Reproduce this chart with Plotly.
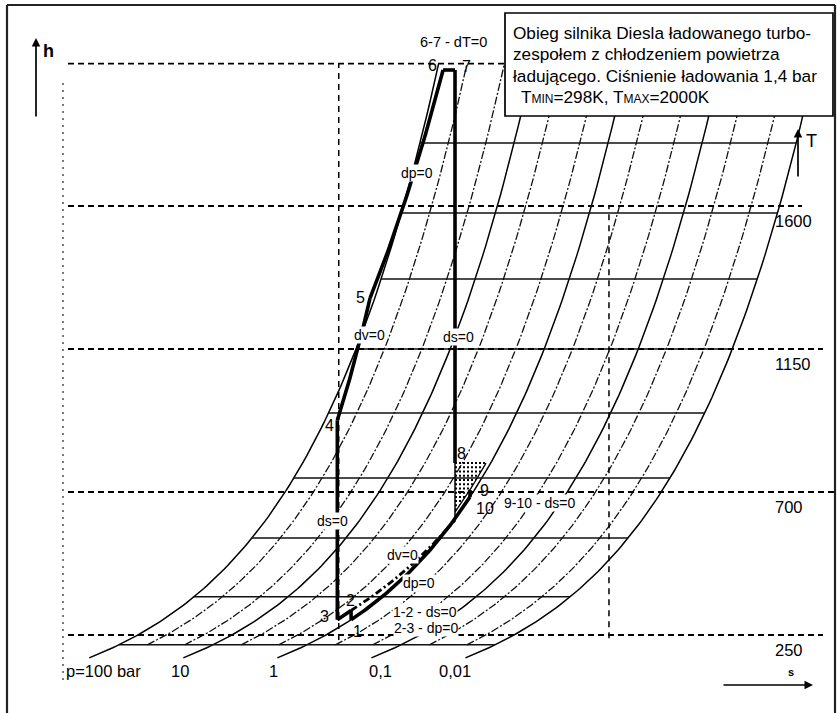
import numpy as np
import plotly.graph_objects as go

W, H = 837, 713
FONT = "Liberation Sans, Arial, sans-serif"
INK = "#000000"

# Ideal-gas air, kJ/(kg K); entropy counted from 0 °C and 1 bar
CP, R = 1.005, 0.287
T_REF, P_REF = 273.15, 1.0

# Isobar family (bar)
decade_pressures = [100, 10, 1, 0.1, 0.01]
decade_labels = ["p=100 bar", "10", "1", "0,1", "0,01"]
intermediate_pressures = [50, 20, 5, 2, 0.5, 0.2, 0.05, 0.02]
T_ISO_LOW, T_ISO_LOW_MINOR, T_TOP = 178, 219, 2048

# Temperature scale (K) and enthalpy grid levels expressed in K
temperature_ticks = [250, 700, 1150, 1600]
grid_T = [219, 370, 555, 744, 949, 1150, 1370, 1578, 1798]

# Cycle states: entropy (kJ/kg K) and temperature (K)
state_ids = ["1", "2", "3", "4", "5", "6", "7", "8", "9", "10"]
state_s = [0.0875, 0.0875, -0.009, -0.009, 0.221, 0.734, 0.818, 0.818, 0.923, 0.923]
state_T = [298, 327, 298, 926, 1310, 2028, 2028, 791, 706, 684]
p_exhaust = 1.12        # bar, exhaust manifold isobar through state 9
T_dv_end = 612          # K, lower end of the dv=0 reference line on s8

S = dict(zip(state_ids, state_s))
T = dict(zip(state_ids, state_T))


def entropy(t, p):
    return CP * np.log(np.asarray(t, float) / T_REF) - R * np.log(p / P_REF)


def temp_at(s, p):
    return T_REF * np.exp((s + R * np.log(p / P_REF)) / CP)


def process(sa, ta, sb, tb, n=60):
    """Polytropic path (s linear in ln T) between two states."""
    if abs(sb - sa) < 1e-12 or ta == tb:
        return [sa, sb], [ta, tb]
    f = np.linspace(0, 1, n)
    return sa + f * (sb - sa), ta * (tb / ta) ** f


# pixel helpers for frame decorations (paper coordinates)
def px(x):
    return x / W


def py(y):
    return 1 - y / H


# axis ranges chosen so the diagram fills the page
X_RANGE = [-2.3795, 3.5024]
Y_RANGE = [4.54, 2248.3]
s_per_px = (X_RANGE[1] - X_RANGE[0]) / W


def s_at(xp):
    return X_RANGE[0] + xp * s_per_px


fig = go.Figure()


def line(xs, ys, width=1.2, dash="solid", color=INK):
    fig.add_trace(go.Scatter(x=list(xs), y=list(ys), mode="lines",
                             line=dict(color=color, width=width, dash=dash),
                             hoverinfo="skip", showlegend=False))


# intermediate isobars
for p in intermediate_pressures:
    t = np.geomspace(T_ISO_LOW_MINOR, T_TOP, 120)
    line(entropy(t, p), t, 1.3, "8px,2px,2px,2px", "#111111")

# decade isobars
for p in decade_pressures:
    t = np.geomspace(T_ISO_LOW, T_TOP, 120)
    line(entropy(t, p), t, 1.5)

# enthalpy grid lines bounded by the outer isobars
for tg in grid_T:
    line([entropy(tg, max(decade_pressures)), entropy(tg, min(decade_pressures))],
         [tg, tg], 1.5, "solid", "#111111")

# temperature reference lines (dashed)
dash_ends = {250: 823, 700: 835, 1150: 823, 1600: 802, T_TOP: 505}
for tv, xe in dash_ends.items():
    line([s_at(68), s_at(xe)], [tv, tv], 1.9, "6px,4px")

# vertical guides
line([s_at(63), s_at(63)], [108, 1987], 1.3, "2px,5px", "#333333")
line([S["3"] + 0.01, S["3"] + 0.01], [234, T_TOP], 1.5, "6px,5px")
line([1.90, 1.90], [240, 1600], 1.5, "6px,5px")

# hatched blow-down triangle below state 8
T_hatch_bottom = float(temp_at(S["8"], p_exhaust))
for th in np.linspace(T["8"], T_hatch_bottom + 8, 12):
    line([S["8"], float(entropy(th, p_exhaust))], [th, th], 2.0, "2px,2px")
tt = np.geomspace(T_hatch_bottom, T["8"], 20)
line(entropy(tt, p_exhaust), tt, 1.3)
line([S["8"], S["8"]], [T["8"], T_dv_end], 1.5)

# dv=0 reference line from state 2
xs, ys = process(S["2"], T["2"], S["8"], T_dv_end)
line(xs, ys, 2.8, "7px,3px,2px,3px")

# cycle processes
segments = [("1", "2"), ("2", "3"), ("3", "4"), ("4", "5"), ("5", "6"),
            ("6", "7"), ("7", "8"), ("9", "10"), ("10", "1")]
for a, b in segments:
    xs, ys = process(S[a], T[a], S[b], T[b])
    line(xs, ys, 3.6)

annotations = []


def label(text, x, y, size=14, bg="white", **kw):
    annotations.append(dict(text=text, x=x, y=y, xref="x", yref="y",
                            showarrow=False, bgcolor=bg, borderpad=0,
                            font=dict(family=FONT, size=size, color=INK), **kw))


# process labels
label("6-7 - dT=0", 0.804, 2116, 14.5)
label("dp=0", 0.551, 1704)
label("dv=0", 0.214, 1194)
label("ds=0", 0.846, 1188)
label("ds=0", -0.040, 609)
label("9-10 - ds=0", 1.415, 665)
label("dv=0", 0.446, 502)
label("dp=0", 0.565, 414)
label("1-2 - ds=0", 0.607, 322)
label("2-3 - dp=0", 0.614, 272)

# state numbers
state_offsets = {"1": (6, -12), "2": (-1, 10), "3": (-13, 3), "4": (-8, -5),
                 "5": (-10, 1), "6": (-11, 5), "7": (11, 4), "8": (6, 10),
                 "9": (15, 0), "10": (15, -11)}
for k in state_ids:
    dx, dy = state_offsets[k]
    label(k, S[k], T[k], 16, bg="rgba(0,0,0,0)", xshift=dx, yshift=dy)

# isobar labels along the bottom
for txt, xp in zip(decade_labels, [103, 180, 273, 380, 455]):
    label(txt, s_at(xp), 137, 16.5, bg="rgba(0,0,0,0)")

# temperature labels
for tv in temperature_ticks:
    label(str(tv), s_at(774), tv, 16.5, bg="rgba(0,0,0,0)",
          xanchor="left", yanchor="top", yshift=-5)

# axis letters and arrows
for txt, x0, y0, size in [("<b>h</b>", 48, 51, 18), ("T", 811, 141, 18), ("<b>s</b>", 791, 672, 11)]:
    annotations.append(dict(text=txt, x=px(x0), y=py(y0), xref="paper", yref="paper",
                            xanchor="center", yanchor="middle",
                            showarrow=False, font=dict(family=FONT, size=size, color=INK)))
for hx, hy, ax, ay in [(36, 38, 0, 80), (798, 129, 0, 49), (813, 685, -91, 0)]:
    annotations.append(dict(text="", x=px(hx), y=py(hy), xref="paper", yref="paper",
                            ax=ax, ay=ay, showarrow=True, arrowhead=2, arrowsize=1,
                            arrowwidth=1.7, arrowcolor=INK))

# title box
box_lines = ["Obieg silnika Diesla ładowanego turbo-",
             "zespołem z chłodzeniem powietrza",
             "ładującego. Ciśnienie ładowania 1,4 bar",
             "T<span style='font-size:12px'>MIN</span>=298K, "
             "T<span style='font-size:12px'>MAX</span>=2000K"]
for i, (txt, yc) in enumerate(zip(box_lines, [33, 54, 76, 97])):
    annotations.append(dict(text=txt, x=px(511 if i < 3 else 519), y=py(yc),
                            xref="paper", yref="paper", xanchor="left", yanchor="middle",
                            showarrow=False, font=dict(family=FONT, size=17.2, color=INK)))

shapes = [
    dict(type="rect", xref="paper", yref="paper", x0=px(505), x1=px(833),
         y0=py(116), y1=py(13), fillcolor="white", line=dict(color=INK, width=1.7),
         layer="above"),
    dict(type="line", xref="paper", yref="paper", x0=px(7), x1=px(835),
         y0=py(5), y1=py(5), line=dict(color="#222222", width=2.2)),
    dict(type="line", xref="paper", yref="paper", x0=px(7), x1=px(7),
         y0=py(5), y1=py(713), line=dict(color="#222222", width=2.2)),
    dict(type="line", xref="paper", yref="paper", x0=px(835), x1=px(835),
         y0=py(5), y1=py(713), line=dict(color="#222222", width=2.2)),
]

fig.update_layout(
    width=W, height=H, margin=dict(l=0, r=0, t=0, b=0),
    paper_bgcolor="white", plot_bgcolor="white", showlegend=False,
    xaxis=dict(range=X_RANGE, visible=False, fixedrange=True),
    yaxis=dict(range=Y_RANGE, visible=False, fixedrange=True),
    annotations=annotations, shapes=shapes,
)

fig.write_html("out.html")
